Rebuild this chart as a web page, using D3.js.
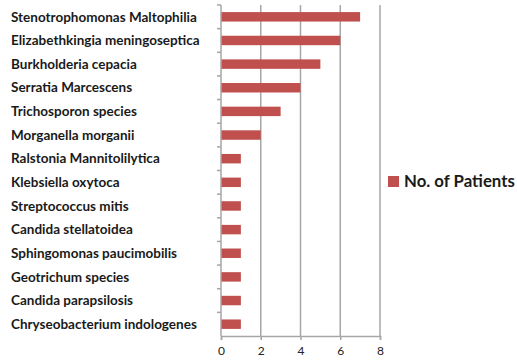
<!DOCTYPE html>
<html>
<head>
<meta charset="utf-8">
<script src="https://cdn.jsdelivr.net/npm/d3@7"></script>
<style>
  body { margin: 0; background: #fff; }
  svg text { font-family: Lato, "Open Sans", sans-serif; }
</style>
</head>
<body>
<svg id="chart" width="517" height="362"></svg>
<script>
// Organisms isolated, and number of patients for each
const organisms = [
  "Stenotrophomonas Maltophilia",
  "Elizabethkingia meningoseptica",
  "Burkholderia cepacia",
  "Serratia Marcescens",
  "Trichosporon species",
  "Morganella morganii",
  "Ralstonia Mannitolilytica",
  "Klebsiella oxytoca",
  "Streptococcus mitis",
  "Candida stellatoidea",
  "Sphingomonas paucimobilis",
  "Geotrichum species",
  "Candida parapsilosis",
  "Chryseobacterium indologenes"
];
const patients = [7, 6, 5, 4, 3, 2, 1, 1, 1, 1, 1, 1, 1, 1];
const xTicks = [0, 2, 4, 6, 8];
const seriesName = "No. of Patients";

const svg = d3.select("#chart");
const plot = { left: 221, right: 380, top: 5, bottom: 336 };
const barColor = "#C0504D";
const axisColor = "#A6A6A6";

const x = d3.scaleLinear().domain([0, 8]).range([plot.left, plot.right]);
const y = d3.scaleBand().domain(organisms).range([plot.top, plot.bottom]).paddingInner(0.6).paddingOuter(0.3);
const yBand = d3.scaleBand().domain(organisms).range([plot.top, plot.bottom]);

// vertical gridlines
svg.append("g")
  .selectAll("line")
  .data(xTicks.slice(1))
  .join("line")
  .attr("x1", d => x(d)).attr("x2", d => x(d))
  .attr("y1", plot.top).attr("y2", plot.bottom)
  .attr("stroke", axisColor).attr("stroke-width", 1.5);

// bars
svg.append("g")
  .selectAll("rect")
  .data(organisms)
  .join("rect")
  .attr("x", x(0))
  .attr("y", d => y(d))
  .attr("width", (d, i) => x(patients[i]) - x(0))
  .attr("height", y.bandwidth())
  .attr("fill", barColor);

// x axis
const xAxis = svg.append("g")
  .attr("transform", `translate(0,${plot.bottom})`)
  .call(d3.axisBottom(x).tickValues(xTicks).tickSize(4).tickPadding(6));
xAxis.select(".domain").attr("stroke", axisColor).attr("stroke-width", 1.5);
xAxis.selectAll(".tick line").attr("stroke", axisColor).attr("stroke-width", 1.5);
xAxis.selectAll(".tick text").attr("fill", "#222").attr("font-size", 12).attr("font-family", "Lato, sans-serif");

// y axis: line with tick marks between categories
const yLine = svg.append("g");
yLine.append("line")
  .attr("x1", plot.left).attr("x2", plot.left)
  .attr("y1", plot.top).attr("y2", plot.bottom)
  .attr("stroke", axisColor).attr("stroke-width", 1.5);
yLine.selectAll("line.tk")
  .data(organisms)
  .join("line")
  .attr("class", "tk")
  .attr("x1", plot.left - 4).attr("x2", plot.left)
  .attr("y1", d => yBand(d)).attr("y2", d => yBand(d))
  .attr("stroke", axisColor).attr("stroke-width", 1.5);

// category labels, left aligned
svg.append("g")
  .selectAll("text")
  .data(organisms)
  .join("text")
  .attr("x", 11)
  .attr("y", d => yBand(d) + yBand.bandwidth() / 2)
  .attr("dy", "0.35em")
  .attr("font-size", 13.5)
  .attr("font-weight", "bold")
  .attr("fill", "#1a1a1a")
  .text(d => d);

// legend
const legend = svg.append("g").attr("transform", "translate(388,176)");
legend.append("rect").attr("width", 11).attr("height", 11).attr("fill", barColor);
legend.append("text")
  .attr("x", 16).attr("y", 11)
  .attr("font-size", 16.8).attr("font-weight", "bold").attr("fill", "#1a1a1a")
  .text(seriesName);
</script>
</body>
</html>
